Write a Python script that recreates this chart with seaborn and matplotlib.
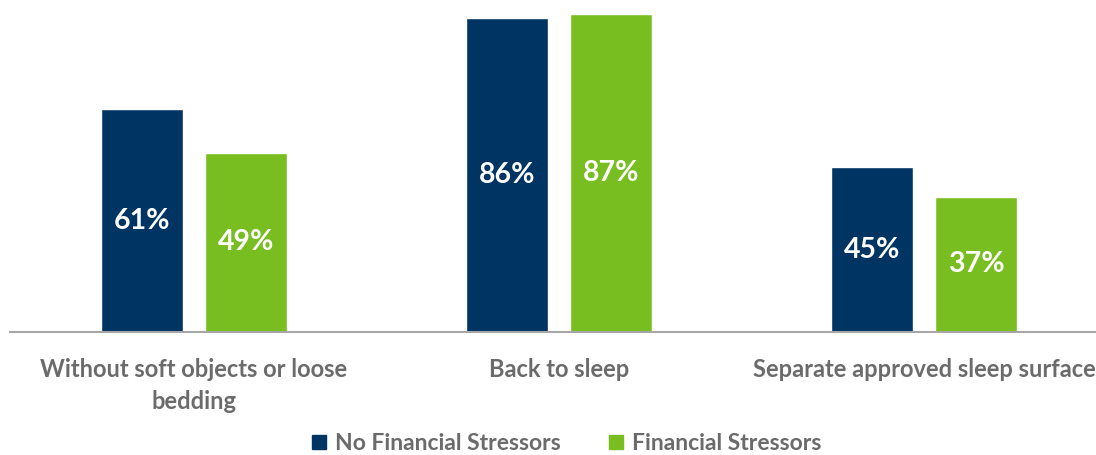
import pandas as pd
import matplotlib.pyplot as plt
import seaborn as sns

categories = ['Without soft objects or loose\nbedding', 'Back to sleep', 'Separate approved sleep surface']
groups = ['No Financial Stressors', 'Financial Stressors']
no_stress = [61, 86, 45]
stress = [49, 87, 37]

colors = ['#003462', '#78be20']
text_grey = '#6b6b6b'

df = pd.DataFrame({
    'category': categories * 2,
    'group': [groups[0]] * 3 + [groups[1]] * 3,
    'value': no_stress + stress,
})

sns.set_theme(style='white')
plt.rcParams['font.family'] = ['Lato', 'DejaVu Sans']

fig = plt.figure(figsize=(10.96, 4.55), dpi=100)
ax = fig.add_axes([10 / 1096, 123 / 455, 1 - 10 / 1096, 329 / 455])

sns.barplot(data=df, x='category', y='value', hue='group', palette=colors,
            width=0.57, gap=0.21, ax=ax, legend=False, saturation=1)

for cont in ax.containers:
    labels = [f'{v:.0f}%' for v in cont.datavalues]
    ax.bar_label(cont, labels=labels, label_type='center', color='white',
                 fontsize=20.5, fontweight='bold')

ax.set_xlim(-0.504, 2.471)
ax.set_ylim(0, 90)
ax.set_xlabel('')
ax.set_ylabel('')
ax.set_yticks([])
ax.tick_params(axis='x', length=0, pad=19, labelsize=17, labelcolor=text_grey)
for lab in ax.get_xticklabels():
    lab.set_fontweight('bold')
    lab.set_linespacing(1.45)
for side in ['top', 'left', 'right']:
    ax.spines[side].set_visible(False)
ax.spines['bottom'].set_color('#a6a6a6')
ax.spines['bottom'].set_linewidth(1.5)

handles = [plt.Line2D([], [], marker='s', linestyle='', markersize=9.5, color=c) for c in colors]
leg = fig.legend(handles, groups, loc='center', bbox_to_anchor=(563 / 1096, 1 - 444 / 455),
                 ncol=2, frameon=False, handletextpad=0.1, handlelength=1.2, columnspacing=1.8,
                 prop={'size': 16.5, 'weight': 'bold'})
for t in leg.get_texts():
    t.set_color(text_grey)

fig.savefig('out.png', dpi=100)
